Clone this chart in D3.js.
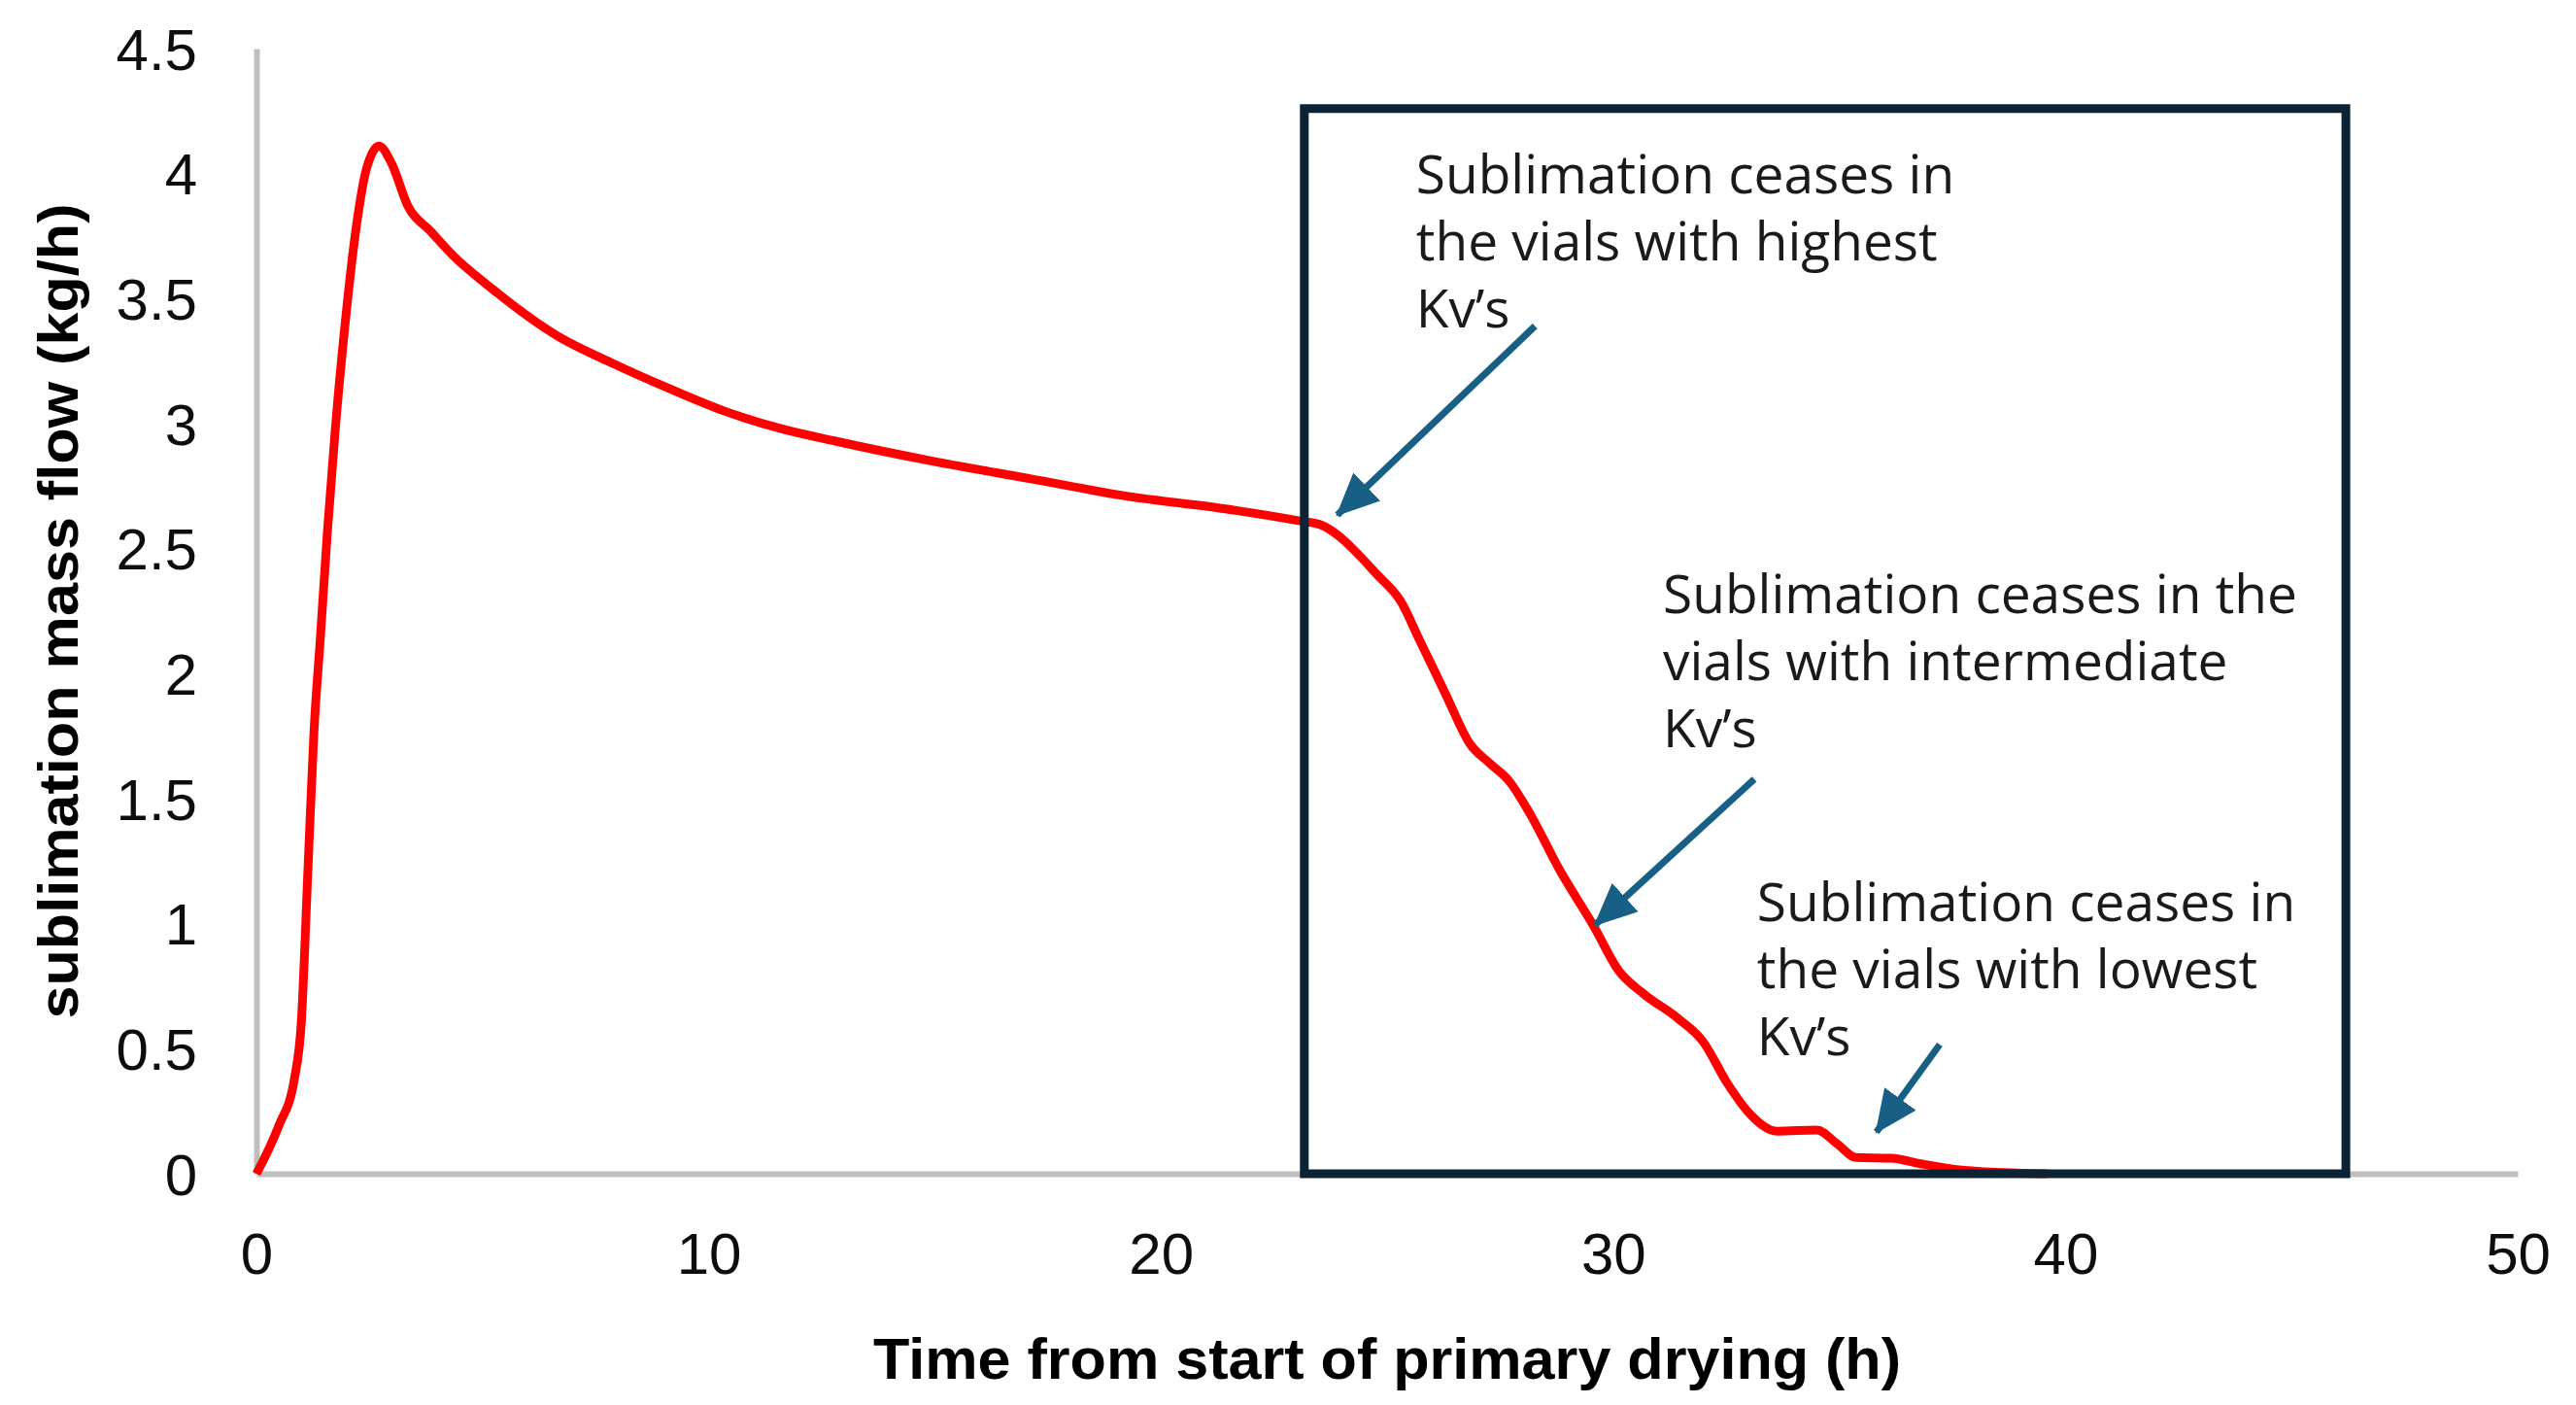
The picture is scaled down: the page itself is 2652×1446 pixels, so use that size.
<!DOCTYPE html>
<html>
<head>
<meta charset="utf-8">
<script src="https://cdn.jsdelivr.net/npm/d3@7"></script>
<style>
  html, body { margin: 0; padding: 0; background: #fff; }
  svg { display: block; }
</style>
</head>
<body>
<div id="chart"></div>
<script>
// sublimation mass flow (kg/h) vs time (h)
const hours = [0, 0.49, 0.84, 0.99, 1.14, 1.27, 1.42, 1.57, 1.74, 1.95, 2.21, 2.42, 2.71, 2.99,
  3.35, 3.85, 4.36, 5.07, 6.66, 7.89, 9.13, 10.35, 11.6, 12.8, 14.95, 17.1, 19.24, 21.39, 23.1,
  23.54, 23.97, 24.21, 24.76, 25.3, 25.73, 26.29, 26.83, 27.28, 27.7, 28.16, 28.8, 29.57, 30.13,
  30.67, 31.44, 31.98, 32.53, 32.97, 33.63, 34.5, 34.95, 35.37, 36.15, 36.8, 37.7, 38.6, 39.6];
const massFlow = [0, 0.19, 0.38, 0.6, 1.22, 1.76, 2.16, 2.57, 2.97, 3.38, 3.79, 4.01, 4.11, 4.04,
  3.87, 3.77, 3.67, 3.56, 3.35, 3.24, 3.14, 3.05, 2.98, 2.93, 2.85, 2.78, 2.71, 2.66, 2.61,
  2.595, 2.545, 2.505, 2.40, 2.29, 2.13, 1.92, 1.72, 1.64, 1.57, 1.44, 1.22, 0.99, 0.81,
  0.72, 0.62, 0.53, 0.36, 0.25, 0.17, 0.175, 0.12, 0.065, 0.062, 0.04, 0.015, 0.005, 0];

const xTicks = [0, 10, 20, 30, 40, 50];
const yTicks = [0, 0.5, 1, 1.5, 2, 2.5, 3, 3.5, 4, 4.5];

// highlighted window (h) and its top (kg/h)
const boxHours = [23.17, 46.2];
const boxTop = 4.26;

const notes = [
  { lines: ["Sublimation ceases in", "the vials with highest", "Kv\u2019s"], h: 25.64, v: 3.92,
    tail: [28.27, 3.39], tip: [23.9, 2.635] },
  { lines: ["Sublimation ceases in the", "vials with intermediate", "Kv\u2019s"], h: 31.1, v: 2.243,
    tail: [33.12, 1.578], tip: [29.6, 0.995] },
  { lines: ["Sublimation ceases in", "the vials with lowest", "Kv\u2019s"], h: 33.18, v: 1.01,
    tail: [37.22, 0.517], tip: [35.82, 0.167] }
];

const W = 2652, H = 1446;
const x = d3.scaleLinear().domain([0, 50]).range([264, 2592]);
const y = d3.scaleLinear().domain([0, 4.5]).range([1208, 50]);

const svg = d3.select("#chart").append("svg")
  .attr("width", W).attr("height", H)
  .attr("viewBox", "0 0 " + W + " " + H);

svg.append("defs").append("marker")
  .attr("id", "head")
  .attr("markerUnits", "userSpaceOnUse")
  .attr("viewBox", "0 0 44 40")
  .attr("refX", 42).attr("refY", 20)
  .attr("markerWidth", 44).attr("markerHeight", 40)
  .attr("orient", "auto")
  .append("path")
  .attr("d", "M0,0 L44,20 L0,40 Z")
  .attr("fill", "#175f84");

// axes (no tick marks, grey lines like Excel)
const xAxis = svg.append("g")
  .attr("transform", "translate(0," + y(0) + ")")
  .call(d3.axisBottom(x).tickValues(xTicks).tickSize(0).tickPadding(0).tickFormat(d3.format("d")));
xAxis.select(".domain").attr("stroke", "#bfbfbf").attr("stroke-width", 6);
xAxis.selectAll("text")
  .attr("y", 103).attr("dy", 0)
  .style("font-family", "'Liberation Sans', Arial, sans-serif")
  .style("font-size", "60px").attr("fill", "#0d0d0d");

const yAxis = svg.append("g")
  .attr("transform", "translate(" + x(0) + ",0)")
  .call(d3.axisLeft(y).tickValues(yTicks).tickSize(0).tickPadding(0).tickFormat(d => String(d)));
yAxis.select(".domain").attr("stroke", "#bfbfbf").attr("stroke-width", 6);
yAxis.selectAll("text")
  .attr("x", -61).attr("dy", "0.35em")
  .style("font-family", "'Liberation Sans', Arial, sans-serif")
  .style("font-size", "60px").attr("fill", "#0d0d0d");

// axis titles
svg.append("text")
  .attr("x", (x(0) + x(50)) / 2).attr("y", 1419)
  .attr("text-anchor", "middle")
  .attr("textLength", 1058).attr("lengthAdjust", "spacingAndGlyphs")
  .style("font-family", "'Liberation Sans', Arial, sans-serif")
  .style("font-weight", "bold").style("font-size", "60px").attr("fill", "#000")
  .text("Time from start of primary drying (h)");

svg.append("text")
  .attr("transform", "translate(80," + (y(0) + y(4.5)) / 2 + ") rotate(-90)")
  .attr("text-anchor", "middle")
  .attr("textLength", 839).attr("lengthAdjust", "spacingAndGlyphs")
  .style("font-family", "'Liberation Sans', Arial, sans-serif")
  .style("font-weight", "bold").style("font-size", "58px").attr("fill", "#000")
  .text("sublimation mass flow (kg/h)");

// curve
const pts = hours.map((h, i) => [h, massFlow[i]]);
svg.append("path")
  .datum(pts)
  .attr("fill", "none")
  .attr("stroke", "#ff0000")
  .attr("stroke-width", 9)
  .attr("stroke-linejoin", "round")
  .attr("d", d3.line().x(d => x(d[0])).y(d => y(d[1])).curve(d3.curveMonotoneX));

// highlight box
svg.append("rect")
  .attr("x", x(boxHours[0])).attr("y", y(boxTop))
  .attr("width", x(boxHours[1]) - x(boxHours[0]))
  .attr("height", y(0) - y(boxTop))
  .attr("fill", "none").attr("stroke", "#0b2335").attr("stroke-width", 9);

// annotations
notes.forEach(n => {
  const t = svg.append("text")
    .attr("x", x(n.h)).attr("y", y(n.v))
    .style("font-family", "'Open Sans', sans-serif")
    .style("font-size", "55px").attr("fill", "#1a1a1a");
  n.lines.forEach((l, i) => {
    t.append("tspan").attr("x", x(n.h)).attr("dy", i ? 69 : 0).text(l);
  });
  svg.append("line")
    .attr("x1", x(n.tail[0])).attr("y1", y(n.tail[1]))
    .attr("x2", x(n.tip[0])).attr("y2", y(n.tip[1]))
    .attr("stroke", "#175f84").attr("stroke-width", 7)
    .attr("marker-end", "url(#head)");
});
</script>
</body>
</html>
